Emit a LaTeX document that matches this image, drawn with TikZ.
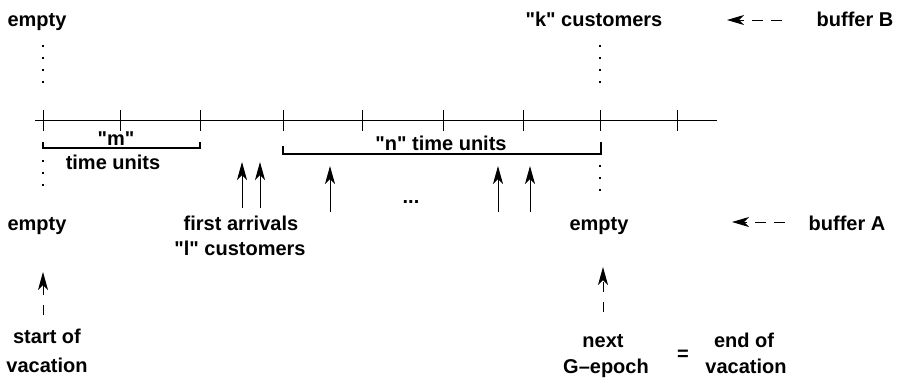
\documentclass[tikz,border=0pt]{standalone}
\usepackage{fontspec}
\setmainfont{Liberation Sans}[Ligatures=TeXOff]
\usetikzlibrary{arrows.meta}
\begin{document}
\begin{tikzpicture}[x=1pt,y=-1pt,
  lbl/.style={font=\fontsize{20}{24}\selectfont\bfseries, anchor=base, inner sep=0pt},
  axisline/.style={line width=1pt},
  tickmark/.style={line width=1pt},
  brace/.style={line width=1.1pt},
  dotline/.style={line width=1.2pt, dash pattern=on 2pt off 10pt},
  head/.style={-{Stealth[length=18pt,width=10pt,inset=5pt]}},
  arrival/.style={line width=1pt, head},
  pointer/.style={line width=1pt, dash pattern=on 10pt off 10pt, head},
  sidepointer/.style={line width=1pt, dash pattern=on 11pt off 8pt, -{Stealth[length=17pt,width=10pt,inset=5pt]}}]
\useasboundingbox (0,0) rectangle (900,384);

% time axis with unit ticks
\coordinate (axL) at (35,120);
\coordinate (axR) at (717,120);
\draw[axisline] (axL) -- (axR);
\foreach \x in {43,120,200,283,362,443,523,600,677}
  \draw[tickmark] (\x,110) -- (\x,131);

% "m" time units bracket
\coordinate (mL) at (43,142);
\coordinate (mR) at (200,142);
\draw[brace] (mL) -- (43,148) -- (200,148) -- (mR);
\node[lbl] (mlab) at (116,145) {"m"};
\node[lbl] (mtu) at (113,169) {time units};

% "n" time units bracket
\coordinate (nL) at (283,146);
\coordinate (nR) at (601,142);
\draw[brace] (nL) -- (283,154) -- (601,154) -- (nR);
\node[lbl] (nlab) at (441,150) {"n" time units};

% dotted guides at vacation start and next G-epoch
\coordinate (d1a) at (43,45);  \coordinate (d1b) at (43,84);
\coordinate (d2a) at (43,160); \coordinate (d2b) at (43,186);
\coordinate (d3a) at (600,45); \coordinate (d3b) at (600,84);
\coordinate (d4a) at (600,165);\coordinate (d4b) at (600,192);
\draw[dotline] (d1a) -- (d1b);
\draw[dotline] (d2a) -- (d2b);
\draw[dotline] (d3a) -- (d3b);
\draw[dotline] (d4a) -- (d4b);

% customer arrivals
\foreach \n/\x/\yb/\yt in {a1/242/208/162, a2/260/208/162, a3/330/212/166, a4/498/212/166, a5/530/212/166}{
  \coordinate (\n s) at (\x,\yb);
  \coordinate (\n e) at (\x,\yt);
  \draw[arrival] (\n s) -- (\n e);
}
\node[lbl] (dots) at (411,203) {...};

% buffer B row
\node[lbl] (emptyB) at (37,26) {empty};
\node[lbl] (kcust) at (594,26) {"k" customers};
\node[lbl] (bufB) at (855,26) {buffer B};
\coordinate (pBs) at (782,20);
\coordinate (pBe) at (727,20);
\draw[sidepointer] (pBs) -- (pBe);

% buffer A row
\node[lbl] (emptyA) at (37,230) {empty};
\node[lbl] (first) at (241,230) {first arrivals};
\node[lbl] (lcust) at (240,255) {"l" customers};
\node[lbl] (emptyA2) at (599,230) {empty};
\node[lbl] (bufA) at (847,230) {buffer A};
\coordinate (pAs) at (785,222);
\coordinate (pAe) at (732,222);
\draw[sidepointer] (pAs) -- (pAe);

% start of vacation
\node[lbl] (start1) at (47,343) {start of};
\node[lbl] (start2) at (47,372) {vacation};
\coordinate (sS) at (43,315);
\coordinate (sE) at (43,272);
\draw[pointer] (sS) -- (sE);

% next G-epoch = end of vacation
\node[lbl] (next1) at (603,347) {next};
\node[lbl] (next2) at (606,373) {G–epoch};
\node[lbl] (eq) at (683,360) {=};
\node[lbl] (end1) at (744,347) {end of};
\node[lbl] (end2) at (746,373) {vacation};
\coordinate (gS) at (603,312);
\coordinate (gE) at (603,267);
\draw[pointer] (gS) -- (gE);
\end{tikzpicture}
\end{document}
